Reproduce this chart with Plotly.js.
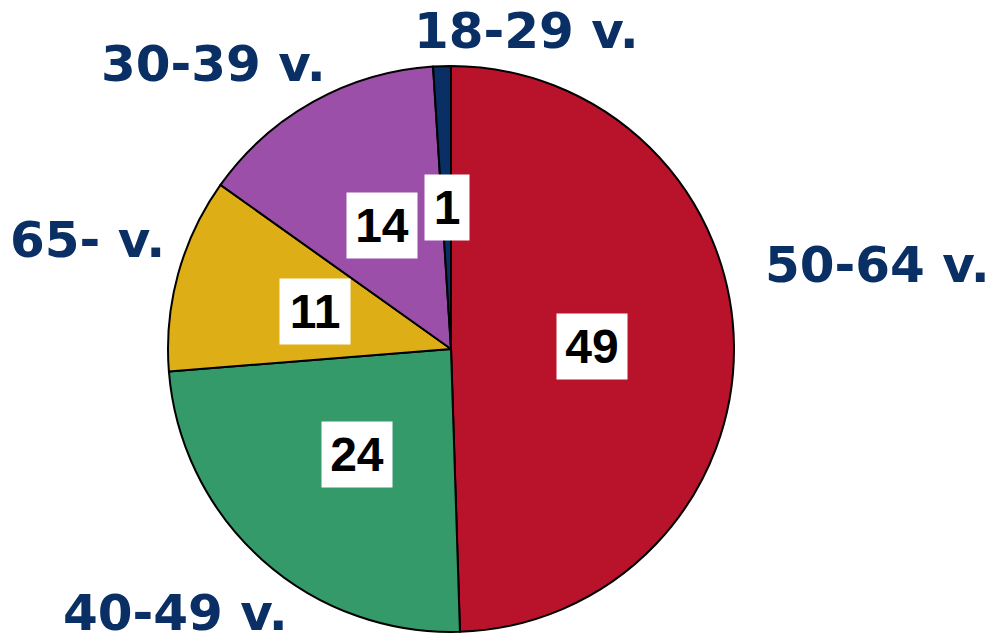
<!DOCTYPE html>
<html>
<head>
<meta charset="utf-8">
<script src="https://cdn.plot.ly/plotly-3.0.1.min.js"></script>
<style>html,body{margin:0;padding:0;background:#fff;}#chart{width:995px;height:644px;}</style>
</head>
<body>
<div id="chart"></div>
<script>
// ---- data ----
const labels = ["50-64 v.", "40-49 v.", "65- v.", "30-39 v.", "18-29 v."];
const values = [49, 24, 11, 14, 1];
const colors = ["#B8132B", "#359A6A", "#DEAE17", "#9B4FA8", "#0A2F64"];

// ---- layout (pixel geometry) ----
const W = 995, H = 644;
const cx = 451, cy = 349, R = 283;
// outside label centres (pixels)
const labelPos = [[877, 265], [175, 613], [87, 240], [213, 64], [526, 31]];

const valFont = 48, pad = 6;
const annotations = [];
const total = values.reduce((a, b) => a + b, 0);
let cum = 0;
values.forEach((v, i) => {
  const mid = (cum + v / 2) / total * 2 * Math.PI;
  cum += v;
  const px = cx + 0.5 * R * Math.sin(mid);
  const py = cy - 0.5 * R * Math.cos(mid);
  const txt = String(v);
  annotations.push({
    x: px / W, y: 1 - py / H, xref: "paper", yref: "paper",
    xanchor: "center", yanchor: "middle", showarrow: false,
    text: "<b>" + txt + "</b>",
    font: {family: "Liberation Sans, Arial, sans-serif", size: valFont, color: "#000"},
    bgcolor: "#ffffff", borderpad: pad,
    width: Math.round(txt.length * 0.556 * valFont + 17 - 2 * pad)
  });
  annotations.push({
    x: labelPos[i][0] / W, y: 1 - labelPos[i][1] / H, xref: "paper", yref: "paper",
    xanchor: "center", yanchor: "middle", showarrow: false,
    text: "<b>" + labels[i] + "</b>",
    font: {family: "DejaVu Sans, Verdana, sans-serif", size: 50, color: "#0A2F64"},
    borderpad: 0
  });
});

const trace = {
  type: "pie",
  labels: labels, values: values, sort: false, direction: "clockwise", rotation: 0,
  marker: {colors: colors, line: {color: "#000", width: 2}},
  textinfo: "none", hoverinfo: "none", showlegend: false,
  domain: {x: [(cx - R) / W, (cx + R) / W], y: [1 - (cy + R) / H, 1 - (cy - R) / H]}
};

Plotly.newPlot("chart", [trace], {
  width: W, height: H, margin: {l: 0, r: 0, t: 0, b: 0},
  paper_bgcolor: "#fff", plot_bgcolor: "#fff",
  showlegend: false, annotations: annotations
}, {staticPlot: true});
</script>
</body>
</html>
